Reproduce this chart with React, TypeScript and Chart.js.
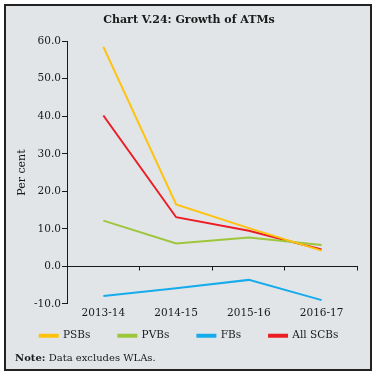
import React, { useEffect, useRef } from "react";
import { Chart, registerables } from "chart.js";

Chart.register(...registerables);

const categories = ["2013-14", "2014-15", "2015-16", "2016-17"];
const psbs = [58.5, 16.5, 10.2, 4.2];
const pvbs = [12.2, 6.1, 7.7, 5.7];
const fbs = [-7.9, -5.8, -3.6, -9.0];
const allScbs = [40.2, 13.1, 9.5, 4.5];
const yTicks = [-10, 0, 10, 20, 30, 40, 50, 60];

const FONT = "'DejaVu Serif', serif";
const DARK = "#1a1a1a";

const zeroLinePlugin = {
  id: "zeroLine",
  afterDatasetsDraw(chart: any) {
    const { ctx, chartArea, scales } = chart;
    const y = Math.round(scales.y.getPixelForValue(0)) + 0.5;
    ctx.save();
    ctx.strokeStyle = DARK;
    ctx.lineWidth = 1;
    ctx.beginPath();
    ctx.moveTo(chartArea.left, y);
    ctx.lineTo(chartArea.right, y);
    const n = categories.length;
    const step = (chartArea.right - chartArea.left) / n;
    for (let i = 1; i <= n; i++) {
      const x = Math.round(chartArea.left + step * i) - 0.5;
      ctx.moveTo(x, y);
      ctx.lineTo(x, y + 4);
    }
    ctx.stroke();
    ctx.restore();
  },
};

export default function App() {
  const ref = useRef<HTMLCanvasElement>(null);
  useEffect(() => {
    if (!ref.current) return;
    const mk = (label: string, data: number[], color: string) => ({
      label,
      data,
      borderColor: color,
      backgroundColor: color,
      borderWidth: 2,
      pointRadius: 0,
      tension: 0,
    });
    const chart = new Chart(ref.current, {
      type: "line",
      data: {
        labels: categories,
        datasets: [
          mk("PSBs", psbs, "#FFC20E"),
          mk("PVBs", pvbs, "#9DC63B"),
          mk("FBs", fbs, "#16ACEC"),
          mk("All SCBs", allScbs, "#EC1C24"),
        ],
      },
      options: {
        animation: false,
        responsive: false,
        maintainAspectRatio: false,
        layout: { padding: { left: 14, right: 12, top: 0, bottom: 18 } },
        plugins: {
          title: {
            display: true,
            text: "Chart V.24: Growth of ATMs",
            color: DARK,
            font: { family: FONT, size: 11, weight: "bold" },
            padding: { top: 8, bottom: 14 },
          },
          legend: {
            position: "bottom",
            labels: {
              color: DARK,
              font: { family: FONT, size: 10.5 },
              boxWidth: 18,
              boxHeight: 2,
              padding: 8,
              generateLabels(chart: any) {
                const items = Chart.defaults.plugins.legend.labels.generateLabels(chart);
                return items.map((it: any, i: number) => ({
                  ...it,
                  text:
                    i < items.length - 1
                      ? it.text + "\u00a0\u00a0\u00a0\u00a0\u00a0\u00a0"
                      : it.text,
                }));
              },
            },
          },
          tooltip: { enabled: false },
        },
        scales: {
          x: {
            grid: { display: false, drawTicks: false },
            border: { display: false },
            offset: true,
            ticks: {
              color: DARK,
              font: { family: FONT, size: 10.5 },
              padding: 3,
              maxRotation: 0,
            },
          },
          y: {
            min: -10,
            max: 60,
            afterBuildTicks(scale: any) {
              scale.ticks = yTicks.map((v) => ({ value: v }));
            },
            afterFit(scale: any) {
              scale.width = 47;
            },
            grid: {
              drawOnChartArea: false,
              drawTicks: true,
              tickLength: 5,
              color: DARK,
            },
            border: { display: true, color: DARK, width: 1 },
            ticks: {
              color: DARK,
              font: { family: FONT, size: 10.5 },
              padding: 1,
              callback: (v: any) => Number(v).toFixed(1),
            },
            title: {
              display: true,
              text: "Per cent",
              color: DARK,
              font: { family: FONT, size: 11 },
              padding: { top: -4, bottom: 4 },
            },
          },
        },
      },
      plugins: [zeroLinePlugin],
    });
    return () => chart.destroy();
  }, []);

  return (
    <div
      style={{
        position: "absolute",
        left: 4,
        top: 4,
        width: 368,
        height: 367,
        border: "2px solid #222",
        boxSizing: "border-box",
        background: "#e1e5e8",
      }}
    >
      <canvas
        ref={ref}
        width={364}
        height={363}
        style={{ position: "absolute", left: 0, top: 0, width: 364, height: 363 }}
      />
      <div
        style={{
          position: "absolute",
          left: 9,
          top: 346,
          fontFamily: FONT,
          fontSize: 10,
          color: DARK,
          whiteSpace: "nowrap",
        }}
      >
        <b>Note:</b> Data excludes WLAs.
      </div>
    </div>
  );
}
